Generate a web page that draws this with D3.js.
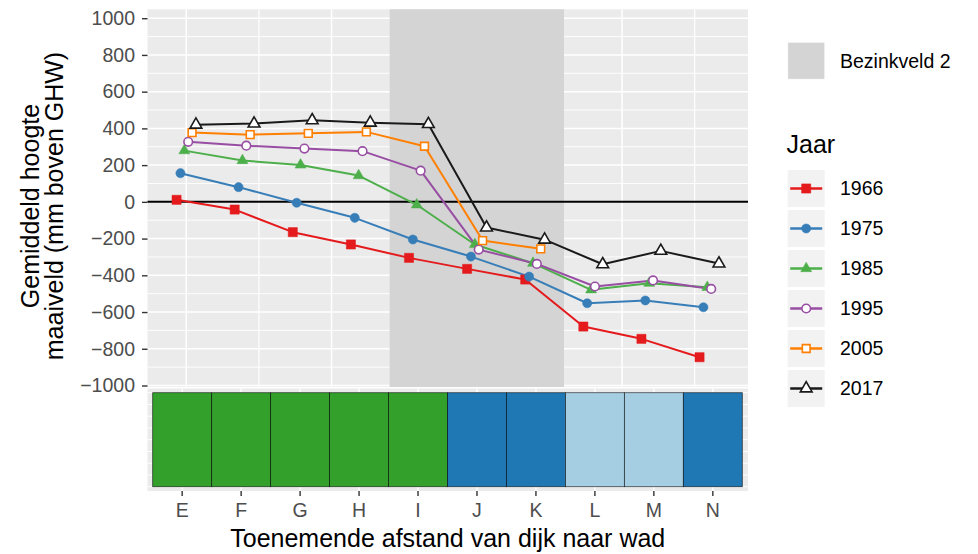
<!DOCTYPE html>
<html>
<head>
<meta charset="utf-8">
<script src="https://cdn.jsdelivr.net/npm/d3@7"></script>
<style>
  html, body { margin: 0; padding: 0; background: #fff; }
  svg { display: block; font-family: "Liberation Sans", Arial, sans-serif; }
</style>
</head>
<body>
<svg id="chart" width="978" height="554"></svg>
<script>
// ---------- data ----------
const categories = ["E", "F", "G", "H", "I", "J", "K", "L", "M", "N"];
const years = ["1966", "1975", "1985", "1995", "2005", "2017"];
const v1966 = [11, -42, -165, -232, -305, -365, -423, -679, -746, -846];
const v1975 = [156, 80, -5, -87, -205, -298, -407, -552, -537, -574];
const v1985 = [279, 225, 201, 143, -16, -232, -334, -479, -443, -465];
const v1995 = [327, 306, 290, 276, 170, -260, -338, -461, -428, -474];
const v2005 = [377, 366, 373, 381, 303, -211, -256, null, null, null];
const v2017 = [420, 426, 444, 431, 423, -140, -206, -340, -267, -336];
const yTicks = [-1000, -800, -600, -400, -200, 0, 200, 400, 600, 800, 1000];
const zoneClass = ["groen", "groen", "groen", "groen", "groen", "donkerblauw", "donkerblauw", "lichtblauw", "lichtblauw", "donkerblauw"];
const bezinkveldFrom = "I", bezinkveldTo = "K";
const bezinkveldLabel = "Bezinkveld 2";
const legendTitle = "Jaar";
const xTitle = "Toenemende afstand van dijk naar wad";
const yTitleLines = ["Gemiddeld hoogte", "maaiveld (mm boven GHW)"];

const seriesValues = [v1966, v1975, v1985, v1995, v2005, v2017];
const seriesColor = ["#e41a1c", "#377eb8", "#4daf4a", "#984ea3", "#ff7f00", "#1a1a1a"];
const seriesShape = ["squareFilled", "circleFilled", "triangleFilled", "circleOpen", "squareOpen", "triangleOpen"];
const zoneColor = { groen: "#33a02c", donkerblauw: "#1f78b4", lichtblauw: "#a6cee3" };

// ---------- layout ----------
const svg = d3.select("#chart");
const P = { left: 147.5, right: 748, top: 9.3, bottom: 387 };
const B = { top: 388.5, bottom: 491, tileTop: 392.7, tileBottom: 486.7, tileLeft: 152.7, tileRight: 742.3 };
const font = "\"Liberation Sans\", Arial, sans-serif";

const x = d3.scaleLinear().domain([-0.667, 9.667]).range([P.left, P.right]);
const y = d3.scaleLinear().domain([-1000, 1000]).range([385.5, 18.2]);
const dodge = 0.4;
const off = i => (i - (years.length - 1) / 2) * dodge / years.length;

// top panel background
svg.append("rect").attr("x", P.left).attr("y", P.top)
  .attr("width", P.right - P.left).attr("height", P.bottom - P.top).attr("fill", "#ebebeb");

const gridG = svg.append("g");
d3.range(-900, 1000, 200).forEach(v => {
  gridG.append("line").attr("x1", P.left).attr("x2", P.right).attr("y1", y(v)).attr("y2", y(v))
    .attr("stroke", "#fff").attr("stroke-width", 0.9);
});
yTicks.forEach(v => {
  gridG.append("line").attr("x1", P.left).attr("x2", P.right).attr("y1", y(v)).attr("y2", y(v))
    .attr("stroke", "#fff").attr("stroke-width", 1.5);
});
[1.25, 3.75, 6.25, 8.75].forEach(v => {
  gridG.append("line").attr("x1", x(v)).attr("x2", x(v)).attr("y1", P.top).attr("y2", P.bottom)
    .attr("stroke", "#fff").attr("stroke-width", 1.2);
});
[0, 2.5, 5, 7.5].forEach(v => {
  gridG.append("line").attr("x1", x(v)).attr("x2", x(v)).attr("y1", P.top).attr("y2", P.bottom)
    .attr("stroke", "#fff").attr("stroke-width", 1.5);
});

// Bezinkveld rect
const bx0 = categories.indexOf(bezinkveldFrom) - 0.5, bx1 = categories.indexOf(bezinkveldTo) + 0.5;
svg.append("rect").attr("x", x(bx0)).attr("y", P.top)
  .attr("width", x(bx1) - x(bx0)).attr("height", P.bottom - P.top).attr("fill", "#d4d4d4");

// zero line
svg.append("line").attr("x1", P.left).attr("x2", P.right).attr("y1", y(0)).attr("y2", y(0))
  .attr("stroke", "#000").attr("stroke-width", 2);

// y axis
const yAxis = svg.append("g").attr("transform", `translate(${P.left},0)`)
  .call(d3.axisLeft(y).tickValues(yTicks).tickFormat(d3.format("d")).tickSize(5.5).tickPadding(7));
yAxis.select(".domain").remove();
yAxis.selectAll(".tick line").attr("stroke", "#333").attr("stroke-width", 1.4);
yAxis.selectAll(".tick text").attr("fill", "#4d4d4d").style("font-size", "19.5px").style("font-family", font);

// series lines
const lineGen = d3.line().defined(d => d.v !== null).x(d => x(d.i + d.o)).y(d => y(d.v));
const seriesData = seriesValues.map((vals, s) => vals.map((v, i) => ({ v, i, o: off(s) })));
seriesData.forEach((pts, s) => {
  svg.append("path").datum(pts).attr("d", lineGen).attr("fill", "none")
    .attr("stroke", seriesColor[s]).attr("stroke-width", 2).attr("stroke-linejoin", "round");
});

function symbolFor(shape) {
  switch (shape) {
    case "squareFilled": return { type: d3.symbolSquare, size: 84, fill: true };
    case "circleFilled": return { type: d3.symbolCircle, size: 66, fill: true };
    case "triangleFilled": return { type: d3.symbolTriangle, size: 52, fill: true };
    case "circleOpen": return { type: d3.symbolCircle, size: 58, fill: false };
    case "squareOpen": return { type: d3.symbolSquare, size: 60, fill: false };
    case "triangleOpen": return { type: d3.symbolTriangle, size: 60, fill: false };
  }
}
function drawSymbol(g, shape, color, cx, cy) {
  const s = symbolFor(shape);
  g.append("path").attr("d", d3.symbol().type(s.type).size(s.size)())
    .attr("transform", `translate(${cx},${cy})`)
    .attr("fill", s.fill ? color : "#fff")
    .attr("stroke", color).attr("stroke-width", s.fill ? 0.5 : 1.6);
}
const ptsG = svg.append("g");
seriesData.forEach((pts, s) => {
  pts.filter(d => d.v !== null).forEach(d => drawSymbol(ptsG, seriesShape[s], seriesColor[s], x(d.i + d.o), y(d.v)));
});

// ---------- bottom panel ----------
svg.append("rect").attr("x", P.left).attr("y", B.top)
  .attr("width", P.right - P.left).attr("height", B.bottom - B.top).attr("fill", "#ebebeb");
const xb = d3.scaleBand().domain(categories).range([B.tileLeft, B.tileRight]).padding(0);
const yb = d3.scaleLinear().domain([0.5, 1.5]).range([B.tileBottom, B.tileTop]);
d3.range(0.5, 1.5001, 0.125).forEach(v => {
  svg.append("line").attr("x1", P.left).attr("x2", P.right).attr("y1", yb(v)).attr("y2", yb(v))
    .attr("stroke", "#fff").attr("stroke-width", 1);
});
categories.forEach(c => {
  const cx = xb(c) + xb.bandwidth() / 2;
  svg.append("line").attr("x1", cx).attr("x2", cx).attr("y1", B.top).attr("y2", B.bottom)
    .attr("stroke", "#fff").attr("stroke-width", 1.4);
});
svg.append("g").selectAll("rect").data(categories).join("rect")
  .attr("x", d => xb(d)).attr("y", yb(1.5))
  .attr("width", xb.bandwidth()).attr("height", yb(0.5) - yb(1.5))
  .attr("fill", (d, i) => zoneColor[zoneClass[i]])
  .attr("stroke", "rgba(0,0,0,0.7)").attr("stroke-width", 0.8);

const xAxis = svg.append("g").attr("transform", `translate(0,${B.bottom})`)
  .call(d3.axisBottom(xb).tickSize(5).tickPadding(7));
xAxis.select(".domain").remove();
xAxis.selectAll(".tick line").attr("stroke", "#333").attr("stroke-width", 1.4);
xAxis.selectAll(".tick text").attr("fill", "#4d4d4d").style("font-size", "19.5px").style("font-family", font);

// titles
svg.append("text").attr("x", (P.left + P.right) / 2).attr("y", 546.5).attr("text-anchor", "middle")
  .style("font-size", "25px").style("font-family", font).attr("fill", "#000").text(xTitle);
const yT = svg.append("text").attr("transform", "translate(0,206) rotate(-90)")
  .attr("text-anchor", "middle").style("font-size", "25px").style("font-family", font).attr("fill", "#000");
yTitleLines.forEach((t, i) => yT.append("tspan").attr("x", 0).attr("y", 39.3 + i * 24).text(t));

// ---------- legend ----------
const L = { x: 787.7, key: 37, labelX: 840 };
const lg = svg.append("g");
lg.append("rect").attr("x", L.x).attr("y", 42.3).attr("width", L.key).attr("height", L.key).attr("fill", "#f2f2f2");
lg.append("rect").attr("x", L.x + 0.5).attr("y", 42.8).attr("width", L.key - 1).attr("height", L.key - 1).attr("fill", "#d4d4d4");
lg.append("text").attr("x", L.labelX).attr("y", 42.3 + L.key / 2).attr("dy", "0.35em")
  .style("font-size", "19.5px").style("font-family", font).attr("fill", "#000").text(bezinkveldLabel);
lg.append("text").attr("x", 786.5).attr("y", 152.5)
  .style("font-size", "25px").style("font-family", font).attr("fill", "#000").text(legendTitle);
years.forEach((yr, s) => {
  const top = 170 + s * 40;
  lg.append("rect").attr("x", L.x).attr("y", top).attr("width", L.key).attr("height", L.key).attr("fill", "#f2f2f2");
  const cy = top + L.key / 2;
  lg.append("line").attr("x1", L.x + 2.5).attr("x2", L.x + L.key - 2.5).attr("y1", cy).attr("y2", cy)
    .attr("stroke", seriesColor[s]).attr("stroke-width", 2.4);
  drawSymbol(lg, seriesShape[s], seriesColor[s], L.x + L.key / 2, cy);
  lg.append("text").attr("x", L.labelX).attr("y", cy).attr("dy", "0.35em")
    .style("font-size", "19.5px").style("font-family", font).attr("fill", "#000").text(yr);
});
</script>
</body>
</html>
